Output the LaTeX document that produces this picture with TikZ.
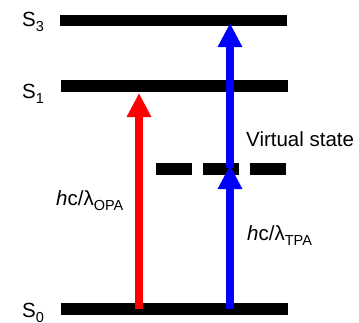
\documentclass[tikz,border=0pt]{standalone}
\usepackage{fontspec}
\setmainfont{Liberation Sans}
\usetikzlibrary{arrows.meta}
\newcommand{\lowsub}[1]{\raisebox{-5pt}{\fontsize{14.5}{15}\selectfont #1}}
\tikzset{
  level/.style={line width=11.5pt},
  virtual/.style={line width=11.5pt, dash pattern=on 36pt off 11pt},
  excite/.style={line width=8pt, -{Triangle[length=24pt,width=23pt]}},
  lbl/.style={inner sep=0pt, anchor=base west, font=\fontsize{20.5}{23}\selectfont}
}
\begin{document}
\begin{tikzpicture}[x=1pt,y=-1pt]
\path[use as bounding box] (0,0) rectangle (359,322);
% levels
\coordinate (s3l) at (60,20.5);  \coordinate (s3r) at (287,20.5);
\coordinate (s1l) at (61,86);    \coordinate (s1r) at (288,86);
\coordinate (s0l) at (61,309);   \coordinate (s0r) at (288,309);
\coordinate (vl) at (156,169);   \coordinate (vr) at (290,169);
\draw[level] (s3l) -- (s3r);
\draw[level] (s1l) -- (s1r);
\draw[level] (s0l) -- (s0r);
\draw[virtual] (vl) -- (vr);
% arrows
\coordinate (rb) at (139,309);  \coordinate (rt) at (139,93);
\coordinate (bb) at (230,309);  \coordinate (bm) at (230,165);
\coordinate (bv) at (230,168);  \coordinate (bt) at (230,23);
\draw[excite, red] (rb) -- (rt);
\draw[excite, blue] (bb) -- (bm);
\draw[excite, blue] (bv) -- (bt);
% labels
\node[lbl] (l3) at (22,26) {S\lowsub{3}};
\node[lbl] (l1) at (22,98) {S\lowsub{1}};
\node[lbl] (l0) at (22,317.3) {S\lowsub{0}};
\node[lbl] (lv) at (246,146.7) {Virtual state};
\node[lbl] (lo) at (56,205) {\textit{h}c/λ\lowsub{OPA}};
\node[lbl] (lt) at (247,240) {\textit{h}c/λ\lowsub{TPA}};
\end{tikzpicture}
\end{document}
